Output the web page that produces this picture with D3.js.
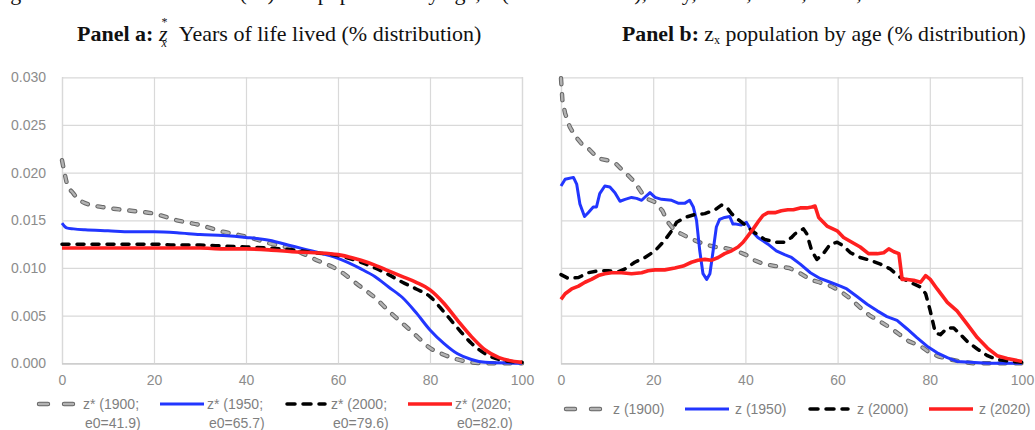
<!DOCTYPE html>
<html>
<head>
<meta charset="utf-8">
<script src="https://cdn.jsdelivr.net/npm/d3@7"></script>
<style>
  body { margin: 0; background: #fff; }
  svg { display: block; }
</style>
</head>
<body>
<svg width="1035" height="430"></svg>
<script>
// ---- data ----
const xTicks = [0, 20, 40, 60, 80, 100];
const yTicks = [0, 0.005, 0.010, 0.015, 0.020, 0.025, 0.030];

// Panel a: z*x years of life lived
const agesA = [0, 0.5, 1, 2.5, 5, 10, 15, 20, 25, 30, 35, 40, 45, 50, 55, 60, 65, 68, 71, 74, 77, 80, 83, 86, 89, 92, 95, 100];
const zStar1900 = [0.0213, 0.0201, 0.0190, 0.0178, 0.0168, 0.0163, 0.0160, 0.0157, 0.0150, 0.0145, 0.0138, 0.0133, 0.0126, 0.0120, 0.0109, 0.0098, 0.0080, 0.0069, 0.0055, 0.0042, 0.0029, 0.0016, 0.0009, 0.0004, 0.0001, 0, 0, 0];
const zStar1950 = [0.0147, 0.0144, 0.0142, 0.0141, 0.0140, 0.0139, 0.0138, 0.0138, 0.0137, 0.0135, 0.0134, 0.0132, 0.0129, 0.0123, 0.0117, 0.0110, 0.0099, 0.0091, 0.0080, 0.0069, 0.0053, 0.0035, 0.0021, 0.0010, 0.0004, 0.0001, 0.00005, 0];
const zStar2000 = [0.0125, 0.0125, 0.0125, 0.0125, 0.0125, 0.0125, 0.0125, 0.0125, 0.0124, 0.0124, 0.0123, 0.0122, 0.0121, 0.0119, 0.0116, 0.0113, 0.0106, 0.0100, 0.0093, 0.0085, 0.0078, 0.0070, 0.0054, 0.0037, 0.0021, 0.0010, 0.0004, 0.0001];
const zStar2020 = [0.0121, 0.0121, 0.0121, 0.0121, 0.0121, 0.0121, 0.0121, 0.0121, 0.0121, 0.0121, 0.0120, 0.0120, 0.0119, 0.0117, 0.0116, 0.0114, 0.0108, 0.0103, 0.0097, 0.0091, 0.0085, 0.0077, 0.0063, 0.0045, 0.0028, 0.0014, 0.0006, 0.0001];

// Panel b: zx population by age
const agesB1900 = [0, 0.3, 0.9, 1.9, 3, 4.5, 6, 8, 10, 12, 13, 14.6, 16, 17.5, 19, 20.4, 22, 23.2, 24.7, 26, 27.6, 29, 31, 33.5, 35.5, 38, 40, 42, 44, 46.5, 49.5, 52, 54, 56, 58.5, 60.5, 63, 65, 67, 69.5, 71.5, 73.5, 75.5, 78, 80, 82, 84.5, 86.5, 89.5, 95, 100];
const z1900 = [0.0299, 0.0276, 0.0262, 0.0248, 0.0239, 0.0230, 0.0225, 0.0215, 0.0213, 0.0209, 0.0204, 0.0197, 0.0190, 0.0179, 0.0172, 0.0169, 0.0160, 0.0148, 0.0139, 0.0136, 0.0132, 0.0129, 0.0125, 0.0122, 0.0121, 0.0118, 0.0114, 0.0108, 0.0104, 0.0102, 0.0100, 0.0094, 0.0088, 0.0085, 0.0081, 0.0076, 0.0067, 0.0058, 0.0050, 0.0043, 0.0037, 0.0030, 0.0023, 0.0018, 0.0011, 0.0007, 0.0004, 0.0002, 0, 0, 0];

const agesB1950 = [0, 0.9, 2.7, 3.4, 4.1, 5.1, 5.9, 7, 7.7, 8.4, 9.5, 10.6, 11.7, 12.8, 13.9, 15.3, 16.4, 17.5, 18.6, 19.3, 20.4, 21.8, 24, 25.4, 26.9, 27.9, 28.7, 29.4, 30.1, 30.8, 31.6, 32.3, 33, 33.7, 34.4, 35.5, 36.6, 37.3, 38, 39.1, 40.2, 41.3, 42.7, 44.9, 46.7, 48.5, 50, 51.9, 54.1, 56.2, 58.4, 60.6, 62, 64.2, 66.4, 68.6, 70.7, 72.9, 75.1, 77.2, 79.4, 81.6, 83.8, 85.9, 88.8, 92.5, 100];
const z1950 = [0.0186, 0.0193, 0.0195, 0.0188, 0.0167, 0.0154, 0.0158, 0.0164, 0.0164, 0.0178, 0.0186, 0.0185, 0.0179, 0.0170, 0.0172, 0.0174, 0.0173, 0.0171, 0.0176, 0.0179, 0.0174, 0.0172, 0.0171, 0.0168, 0.0168, 0.0171, 0.0164, 0.0150, 0.0118, 0.0094, 0.0088, 0.0094, 0.0118, 0.0143, 0.0151, 0.0153, 0.0154, 0.0146, 0.0146, 0.0145, 0.0148, 0.0139, 0.0132, 0.0125, 0.0118, 0.0114, 0.0111, 0.0104, 0.0095, 0.0089, 0.0085, 0.0081, 0.0078, 0.0070, 0.0062, 0.0055, 0.0049, 0.0045, 0.0036, 0.0027, 0.0018, 0.0011, 0.0006, 0.0002, 0.0001, 0, 0];

const agesB2000 = [0, 1.6, 3.8, 5.9, 8.1, 10.3, 12.4, 13.9, 16, 18.2, 20.4, 22.5, 24, 25.1, 26.9, 29, 31.2, 33.4, 34.8, 35.9, 37, 38.4, 40.2, 42, 44.2, 46.4, 48.5, 50, 50.8, 52.6, 53.3, 54.4, 55.5, 56.9, 58.4, 59.9, 61.3, 62.8, 64.9, 67.1, 69.3, 71.4, 73.6, 75.7, 78, 79.1, 80.1, 81.2, 82.3, 83.8, 85.2, 86.7, 88.1, 90.3, 92.5, 94.6, 97.5, 100];
const z2000 = [0.0093, 0.0089, 0.0090, 0.0095, 0.0097, 0.0097, 0.0096, 0.0099, 0.0106, 0.0111, 0.0118, 0.0129, 0.0139, 0.0148, 0.0153, 0.0156, 0.0157, 0.0161, 0.0166, 0.0164, 0.0157, 0.0151, 0.0144, 0.0137, 0.0130, 0.0127, 0.0127, 0.0132, 0.0136, 0.0141, 0.0136, 0.0118, 0.0109, 0.0115, 0.0125, 0.0127, 0.0123, 0.0116, 0.0111, 0.0108, 0.0104, 0.0099, 0.0090, 0.0085, 0.0080, 0.0073, 0.0055, 0.0032, 0.0030, 0.0037, 0.0037, 0.0030, 0.0023, 0.0015, 0.0008, 0.0004, 0.0002, 0.0001];

const agesB2020 = [0, 0.9, 2.3, 3.8, 5.2, 6.6, 8.1, 9.5, 11, 13.1, 15.3, 17.5, 18.9, 20.4, 22.5, 24.7, 26.5, 28.3, 29.7, 31.2, 32.6, 34.1, 35.5, 37, 38.4, 39.5, 40.6, 41.7, 42.7, 43.8, 44.9, 46.4, 47.8, 49.2, 50.4, 51.9, 53.3, 54.4, 55.1, 55.9, 57.7, 59.9, 61.3, 63.1, 64.9, 66.7, 68.6, 70, 71.1, 72.2, 73.3, 74, 75.1, 76.5, 78, 79.1, 80.1, 81.6, 83.8, 85.9, 88.1, 90.3, 92.5, 94.6, 96.8, 100];
const z2020 = [0.0067, 0.0073, 0.0078, 0.0081, 0.0085, 0.0088, 0.0092, 0.0094, 0.0095, 0.0095, 0.0094, 0.0095, 0.0097, 0.0098, 0.0098, 0.0100, 0.0102, 0.0106, 0.0108, 0.0109, 0.0108, 0.0111, 0.0115, 0.0118, 0.0122, 0.0127, 0.0134, 0.0141, 0.0148, 0.0155, 0.0158, 0.0158, 0.0160, 0.0161, 0.0161, 0.0163, 0.0163, 0.0164, 0.0165, 0.0153, 0.0144, 0.0139, 0.0132, 0.0127, 0.0122, 0.0115, 0.0115, 0.0116, 0.0120, 0.0117, 0.0115, 0.0088, 0.0088, 0.0087, 0.0085, 0.0092, 0.0088, 0.0078, 0.0064, 0.0055, 0.0041, 0.0027, 0.0016, 0.0008, 0.0005, 0.0002];

const legendA1 = ["z* (1900;", "z* (1950;", "z* (2000;", "z* (2020;"];
const legendA2 = ["e0=41.9)", "e0=65.7)", "e0=79.6)", "e0=82.0)"];
const legendB = ["z (1900)", "z (1950)", "z (2000)", "z (2020)"];

// ---- styles per year ----
const styles = [
  { color: "#b3b3b3", outline: "#666666", width: 2.4, dash: "6,10", keyDash: "9,16", cap: "round" },
  { color: "#2236ff", width: 3, dash: null, cap: "butt" },
  { color: "#000000", width: 3.5, dash: "7,8", keyDash: "8,8", cap: "round" },
  { color: "#ff2020", width: 3.6, dash: null, cap: "butt" }
];

const svg = d3.select("svg");
const labelFont = "'Liberation Sans', Arial, sans-serif";
const serif = "'Liberation Serif', 'Times New Roman', serif";

// caption line cut off at the top of the picture (only descenders show)
svg.append("text")
  .attr("x", -8).attr("y", 0)
  .style("font-family", serif).style("font-size", "22px").attr("fill", "#111")
  .text("Figure 4: Years of life lived (z*) and population by age, z (% distribution), Italy, 1900, 1950, 2000, 2020");

const y = d3.scaleLinear().domain([0, 0.03]).range([363.3, 77.3]);

function drawLine(g, x, ages, vals, st, curve) {
  const line = d3.line()
    .x((d, i) => x(ages[i]))
    .y(d => y(d))
    .curve(curve);
  if (st.outline) {
    g.append("path").datum(vals).attr("d", line)
      .attr("fill", "none").attr("stroke", st.outline)
      .attr("stroke-width", st.width + 2).attr("stroke-dasharray", st.dash)
      .attr("stroke-linecap", st.cap).attr("stroke-linejoin", "round");
  }
  g.append("path").datum(vals).attr("d", line)
    .attr("fill", "none").attr("stroke", st.color)
    .attr("stroke-width", st.width).attr("stroke-dasharray", st.dash)
    .attr("stroke-linecap", st.cap).attr("stroke-linejoin", "round");
}

function drawFrame(x, showY) {
  const w = x.range()[1] - x.range()[0];
  const h = y.range()[0] - y.range()[1];
  // horizontal grid
  const gy = svg.append("g")
    .attr("transform", `translate(${x.range()[0]},0)`)
    .call(d3.axisLeft(y).tickValues(yTicks).tickSize(-w).tickFormat(""));
  gy.select(".domain").remove();
  gy.selectAll("line").attr("stroke", "#d9d9d9").attr("stroke-width", 1.2);
  // vertical grid + x labels
  const gx = svg.append("g")
    .attr("transform", `translate(0,${y.range()[0]})`)
    .call(d3.axisBottom(x).tickValues(xTicks).tickSize(-h).tickPadding(12).tickFormat(d3.format("d")));
  gx.select(".domain").attr("stroke", "#c8c8c8").attr("stroke-width", 1.2);
  gx.selectAll("line").attr("stroke", "#d9d9d9").attr("stroke-width", 1.2);
  gx.selectAll("text").attr("fill", "#8c8c8c")
    .style("font-family", labelFont).style("font-size", "14px");
  if (showY) {
    const ly = svg.append("g")
      .attr("transform", `translate(${x.range()[0]},0)`)
      .call(d3.axisLeft(y).tickValues(yTicks).tickSize(0).tickPadding(16).tickFormat(d3.format(".3f")));
    ly.select(".domain").remove();
    ly.selectAll("text").attr("fill", "#8c8c8c")
      .style("font-family", labelFont).style("font-size", "14px");
  }
}

function legendSwatch(x0, yy, len, st) {
  const g = svg.append("g");
  const seg = d3.line();
  const inset = st.cap === "round" ? 3 : 0;
  const pts = [[x0 + inset, yy], [x0 + len - inset, yy]];
  if (st.outline) {
    g.append("path").attr("d", seg(pts))
      .attr("stroke", st.outline).attr("stroke-width", st.width + 2)
      .attr("stroke-dasharray", st.keyDash).attr("stroke-linecap", st.cap);
  }
  g.append("path").attr("d", seg(pts))
    .attr("stroke", st.color).attr("stroke-width", st.width)
    .attr("stroke-dasharray", st.keyDash || null).attr("stroke-linecap", st.cap);
}

// ---- Panel a ----
const xA = d3.scaleLinear().domain([0, 100]).range([62, 522]);
drawFrame(xA, true);
const gA = svg.append("g");
[zStar1900, zStar1950, zStar2000, zStar2020].forEach((vals, i) =>
  drawLine(gA, xA, agesA, vals, styles[i], d3.curveMonotoneX));

// ---- Panel b ----
const xB = d3.scaleLinear().domain([0, 100]).range([561, 1022]);
drawFrame(xB, false);
const gB = svg.append("g");
[[agesB1900, z1900], [agesB1950, z1950], [agesB2000, z2000], [agesB2020, z2020]].forEach((s, i) =>
  drawLine(gB, xB, s[0], s[1], styles[i], d3.curveLinear));

// ---- Titles ----
const tA = svg.append("text").attr("x", 77).attr("y", 41)
  .style("font-family", serif).style("font-size", "22px").attr("fill", "#111");
tA.append("tspan").style("font-weight", "bold").text("Panel a: ");
tA.append("tspan").style("font-style", "italic").text("z");
tA.append("tspan").attr("dx", -6).attr("dy", -15).style("font-size", "12px").text("*");
tA.append("tspan").attr("dx", -6).attr("dy", 21).style("font-size", "12px").style("font-style", "italic").text("x");
tA.append("tspan").attr("dx", 12).attr("dy", -6).text("Years of life lived (% distribution)");

const tB = svg.append("text").attr("x", 622).attr("y", 41)
  .style("font-family", serif).style("font-size", "21.8px").attr("fill", "#111");
tB.append("tspan").style("font-weight", "bold").text("Panel b: ");
tB.append("tspan").text("z");
tB.append("tspan").attr("dy", 3).style("font-size", "12px").text("x");
tB.append("tspan").attr("dy", -3).text(" population by age (% distribution)");

// ---- Legends ----
legendA1.forEach((t, i) => {
  const x0 = 36 + 124 * i;
  legendSwatch(x0, 404, 44, styles[i]);
  svg.append("text").attr("x", x0 + 47).attr("y", 409)
    .attr("fill", "#7f7f7f").style("font-family", labelFont).style("font-size", "14px").text(t);
  svg.append("text").attr("x", x0 + 49).attr("y", 428)
    .attr("fill", "#7f7f7f").style("font-family", labelFont).style("font-size", "14px").text(legendA2[i]);
});
legendB.forEach((t, i) => {
  const x0 = 563 + 122 * i;
  legendSwatch(x0, 409, 44, styles[i]);
  svg.append("text").attr("x", x0 + 50).attr("y", 414)
    .attr("fill", "#7f7f7f").style("font-family", labelFont).style("font-size", "14px").text(t);
});
</script>
</body>
</html>
